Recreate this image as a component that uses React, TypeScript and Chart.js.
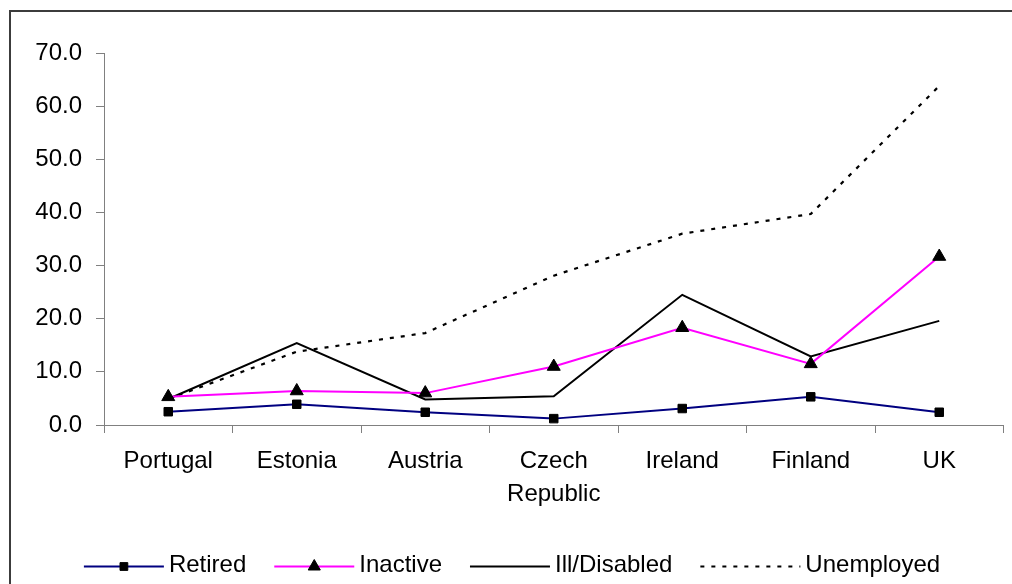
import React, { useEffect, useRef } from 'react';
import { Chart, registerables } from 'chart.js';
import { drawPoint } from 'chart.js/helpers';

Chart.register(...registerables);

// Countries along the category axis (multi-line labels as arrays)
const countries: (string | string[])[] = [
  'Portugal',
  'Estonia',
  'Austria',
  ['Czech', 'Republic'],
  'Ireland',
  'Finland',
  'UK',
];

// Percentages per group
const retired = [2.5, 3.9, 2.4, 1.2, 3.1, 5.3, 2.4];
const inactive = [5.3, 6.4, 6.0, 11.0, 18.3, 11.5, 31.7];
const illDisabled = [4.9, 15.4, 4.8, 5.4, 24.5, 12.9, 19.6];
const unemployed = [4.9, 13.8, 17.3, 28.1, 36.0, 39.7, 63.8];

const yMin = 0;
const yMax = 70;
const yStep = 10;

const FONT = '"Liberation Sans", Arial, sans-serif';

// Outer frame around the whole chart
const framePlugin = {
  id: 'frame',
  beforeDraw(chart: any) {
    const ctx = chart.ctx;
    ctx.save();
    ctx.strokeStyle = '#3c3c3c';
    ctx.lineWidth = 2;
    ctx.strokeRect(10, 11, chart.width + 20, chart.height + 20);
    ctx.restore();
  },
};

// Legend row: line sample with marker, then label, laid out centred
const lineLegendPlugin = {
  id: 'lineLegend',
  afterDraw(chart: any) {
    const ctx = chart.ctx;
    const opts = chart.options.plugins.lineLegend || {};
    const y = opts.y ?? 566.5;
    const gap = opts.itemGap ?? 28;
    const textGap = opts.textGap ?? 5;
    ctx.save();
    ctx.font = `24px ${FONT}`;
    const items = chart.data.datasets.map((ds: any) => {
      const sample = ds.borderDash && ds.borderDash.length ? 100 : 80;
      const tw = ctx.measureText(ds.label).width;
      return { ds, sample, tw, w: sample + textGap + tw };
    });
    const total = items.reduce((s: number, it: any) => s + it.w, 0) + gap * (items.length - 1);
    let x = (opts.centerX ?? chart.width / 2) - total / 2;
    for (const it of items) {
      const ds = it.ds;
      ctx.save();
      ctx.strokeStyle = ds.borderColor;
      ctx.lineWidth = ds.borderWidth;
      ctx.setLineDash(ds.borderDash || []);
      ctx.beginPath();
      ctx.moveTo(x, y);
      ctx.lineTo(x + it.sample, y);
      ctx.stroke();
      ctx.restore();
      if (ds.pointRadius > 0) {
        ctx.save();
        ctx.fillStyle = ds.pointBackgroundColor;
        ctx.strokeStyle = ds.pointBorderColor;
        ctx.lineWidth = 1;
        drawPoint(ctx, { pointStyle: ds.pointStyle, radius: ds.pointRadius - 0.5, rotation: 0, borderWidth: 1 }, x + it.sample / 2, y);
        ctx.restore();
      }
      ctx.fillStyle = '#000';
      ctx.textAlign = 'left';
      ctx.textBaseline = 'alphabetic';
      ctx.fillText(ds.label, x + it.sample + textGap, y + 5);
      x += it.w + gap;
    }
    ctx.restore();
  },
};

export default function App() {
  const canvasRef = useRef<HTMLCanvasElement | null>(null);

  useEffect(() => {
    if (!canvasRef.current) return;
    const chart = new Chart(canvasRef.current, {
      type: 'line',
      data: {
        labels: countries as any,
        datasets: [
          {
            label: 'Retired',
            data: retired,
            borderColor: '#000080',
            borderWidth: 2,
            pointStyle: 'rect',
            pointRadius: 6,
            pointBackgroundColor: '#000000',
            pointBorderColor: '#000000',
            pointBorderWidth: 1,
            tension: 0,
          },
          {
            label: 'Inactive',
            data: inactive,
            borderColor: '#FF00FF',
            borderWidth: 2,
            pointStyle: 'triangle',
            pointRadius: 7.5,
            pointBackgroundColor: '#000000',
            pointBorderColor: '#000000',
            pointBorderWidth: 1,
            tension: 0,
          },
          {
            label: 'Ill/Disabled',
            data: illDisabled,
            borderColor: '#000000',
            borderWidth: 2,
            pointRadius: 0,
            tension: 0,
          },
          {
            label: 'Unemployed',
            data: unemployed,
            borderColor: '#000000',
            borderWidth: 2.2,
            borderDash: [4, 7],
            pointRadius: 0,
            tension: 0,
          },
        ],
      },
      options: {
        animation: false,
        responsive: false,
        events: [],
        layout: { padding: { left: 20, top: 53, right: 6, bottom: 59 } },
        plugins: {
          legend: { display: false },
          tooltip: { enabled: false },
          lineLegend: { y: 566.5, itemGap: 28, textGap: 5, centerX: 512 },
        } as any,
        scales: {
          x: {
            type: 'category',
            offset: true,
            grid: {
              offset: true,
              drawOnChartArea: false,
              color: '#808080',
              tickLength: 8,
            },
            border: { color: '#808080', width: 1 },
            ticks: {
              color: '#000000',
              font: { family: FONT, size: 24, lineHeight: 1.375 },
              padding: 12,
              maxRotation: 0,
              autoSkip: false,
            },
            afterFit: (scale: any) => {
              scale.height = 100;
            },
          },
          y: {
            min: yMin,
            max: yMax,
            grid: {
              drawOnChartArea: false,
              color: '#808080',
              tickLength: 8,
            },
            border: { color: '#808080', width: 1 },
            ticks: {
              stepSize: yStep,
              color: '#000000',
              font: { family: FONT, size: 24 },
              padding: 14,
              callback: (v: any) => Number(v).toFixed(1),
            },
            afterFit: (scale: any) => {
              scale.width = 84;
            },
          },
        },
      },
      plugins: [framePlugin, lineLegendPlugin],
    });
    return () => chart.destroy();
  }, []);

  return (
    <div style={{ position: 'absolute', left: 0, top: 0, width: 1012, height: 584, background: '#fff' }}>
      <canvas ref={canvasRef} width={1012} height={584} style={{ display: 'block' }} />
    </div>
  );
}
